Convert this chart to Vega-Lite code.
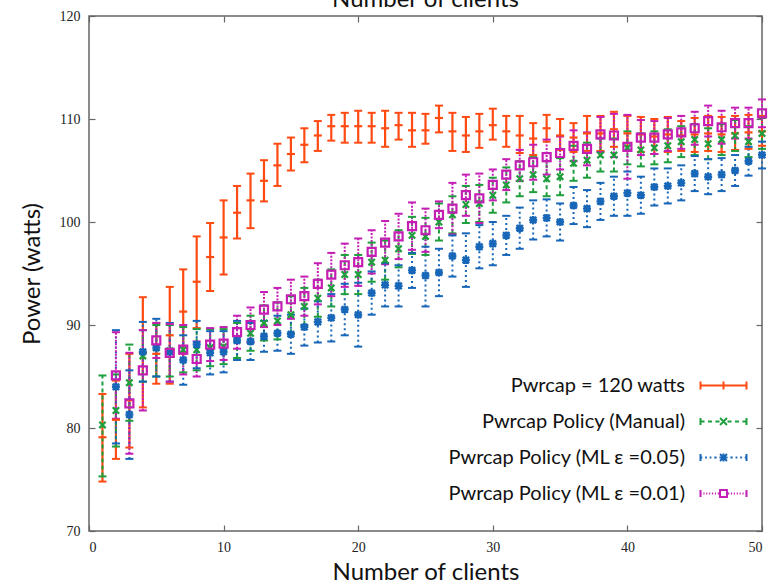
{
"$schema": "https://vega.github.io/schema/vega-lite/v6.json",
"width": 673, "height": 515,
"autosize": {"type": "none"},
"padding": {"left": 89, "top": 16, "right": 10, "bottom": 53},
"background": "white",
"config": {
 "view": {"stroke": "#666", "strokeWidth": 1.5},
 "font": "Lato",
 "axis": {"domain": false, "grid": false, "tickColor": "#666", "tickWidth": 1.2, "tickSize": -6, "labelFont": "Liberation Serif", "labelFontSize": 14, "labelColor": "#222", "titleFont": "Lato", "titleFontSize": 24, "titleFontWeight": "normal", "titleColor": "#111"}
},
"title": {"text": "Number of clients", "font": "Lato", "fontSize": 24, "fontWeight": "normal", "color": "#111", "anchor": "middle", "baseline": "alphabetic", "offset": 0, "dy": 22},
"data": {"values": [
{"s":"a","n":1,"m":79.1,"lo":74.8,"hi":83.3},{"s":"a","n":2,"m":80.8,"lo":77.0,"hi":84.6},{"s":"a","n":3,"m":82.7,"lo":78.1,"hi":87.2},{"s":"a","n":4,"m":87.3,"lo":82.0,"hi":92.7},{"s":"a","n":5,"m":87.2,"lo":84.3,"hi":90.2},{"s":"a","n":6,"m":89.0,"lo":84.3,"hi":93.7},{"s":"a","n":7,"m":91.3,"lo":87.2,"hi":95.4},{"s":"a","n":8,"m":94.2,"lo":89.7,"hi":98.6},{"s":"a","n":9,"m":96.6,"lo":93.3,"hi":99.9},{"s":"a","n":10,"m":98.5,"lo":94.9,"hi":102.1},
{"s":"a","n":11,"m":100.9,"lo":98.4,"hi":103.5},{"s":"a","n":12,"m":102.1,"lo":99.4,"hi":104.7},{"s":"a","n":13,"m":104.0,"lo":102.0,"hi":106.0},{"s":"a","n":14,"m":105.5,"lo":103.5,"hi":107.6},{"s":"a","n":15,"m":106.6,"lo":105.0,"hi":108.2},{"s":"a","n":16,"m":107.5,"lo":105.8,"hi":109.1},{"s":"a","n":17,"m":108.4,"lo":106.9,"hi":109.8},{"s":"a","n":18,"m":109.3,"lo":107.9,"hi":110.4},{"s":"a","n":19,"m":109.3,"lo":107.7,"hi":110.6},{"s":"a","n":20,"m":109.3,"lo":107.7,"hi":110.8},
{"s":"a","n":21,"m":109.3,"lo":107.7,"hi":110.6},{"s":"a","n":22,"m":109.1,"lo":107.3,"hi":110.8},{"s":"a","n":23,"m":109.4,"lo":108.0,"hi":110.6},{"s":"a","n":24,"m":108.9,"lo":107.3,"hi":110.6},{"s":"a","n":25,"m":108.9,"lo":107.6,"hi":110.5},{"s":"a","n":26,"m":110.1,"lo":108.7,"hi":111.3},{"s":"a","n":27,"m":108.8,"lo":106.9,"hi":110.6},{"s":"a","n":28,"m":108.4,"lo":106.8,"hi":110.2},{"s":"a","n":29,"m":108.8,"lo":107.2,"hi":110.5},{"s":"a","n":30,"m":109.4,"lo":108.0,"hi":111.0},
{"s":"a","n":31,"m":108.8,"lo":107.3,"hi":110.3},{"s":"a","n":32,"m":108.4,"lo":106.7,"hi":110.3},{"s":"a","n":33,"m":108.1,"lo":106.5,"hi":109.6},{"s":"a","n":34,"m":109.1,"lo":107.8,"hi":110.4},{"s":"a","n":35,"m":108.4,"lo":107.0,"hi":110.0},{"s":"a","n":36,"m":108.2,"lo":106.8,"hi":109.6},{"s":"a","n":37,"m":108.6,"lo":106.9,"hi":110.3},{"s":"a","n":38,"m":108.6,"lo":106.9,"hi":110.3},{"s":"a","n":39,"m":109.0,"lo":107.3,"hi":110.7},{"s":"a","n":40,"m":108.6,"lo":106.9,"hi":110.3},
{"s":"a","n":41,"m":108.5,"lo":106.8,"hi":110.2},{"s":"a","n":42,"m":108.3,"lo":106.6,"hi":110.0},{"s":"a","n":43,"m":108.5,"lo":106.8,"hi":110.2},{"s":"a","n":44,"m":108.4,"lo":106.9,"hi":109.8},{"s":"a","n":45,"m":108.5,"lo":106.8,"hi":110.1},{"s":"a","n":46,"m":108.6,"lo":106.9,"hi":110.3},{"s":"a","n":47,"m":108.5,"lo":106.8,"hi":110.2},{"s":"a","n":48,"m":108.6,"lo":107.0,"hi":110.3},{"s":"a","n":49,"m":108.7,"lo":107.1,"hi":110.4},{"s":"a","n":50,"m":108.8,"lo":107.4,"hi":110.3},
{"s":"b","n":1,"m":80.3,"lo":75.3,"hi":85.1},{"s":"b","n":2,"m":81.7,"lo":78.2,"hi":85.2},{"s":"b","n":3,"m":84.4,"lo":80.7,"hi":88.1},{"s":"b","n":4,"m":87.0,"lo":84.5,"hi":89.5},{"s":"b","n":5,"m":87.8,"lo":85.0,"hi":90.0},{"s":"b","n":6,"m":87.5,"lo":85.0,"hi":90.0},{"s":"b","n":7,"m":87.6,"lo":85.4,"hi":89.8},{"s":"b","n":8,"m":87.6,"lo":85.6,"hi":89.6},{"s":"b","n":9,"m":87.8,"lo":86.0,"hi":89.6},{"s":"b","n":10,"m":87.9,"lo":86.2,"hi":89.6},
{"s":"b","n":11,"m":88.5,"lo":86.8,"hi":90.2},{"s":"b","n":12,"m":89.2,"lo":87.5,"hi":90.9},{"s":"b","n":13,"m":90.2,"lo":88.5,"hi":91.9},{"s":"b","n":14,"m":90.4,"lo":88.6,"hi":92.2},{"s":"b","n":15,"m":91.0,"lo":89.2,"hi":92.8},{"s":"b","n":16,"m":91.8,"lo":90.0,"hi":93.6},{"s":"b","n":17,"m":92.6,"lo":90.8,"hi":94.4},{"s":"b","n":18,"m":93.6,"lo":91.8,"hi":95.4},{"s":"b","n":19,"m":94.9,"lo":93.0,"hi":96.8},{"s":"b","n":20,"m":94.9,"lo":93.0,"hi":96.8},
{"s":"b","n":21,"m":96.1,"lo":94.2,"hi":98.0},{"s":"b","n":22,"m":96.3,"lo":94.4,"hi":98.2},{"s":"b","n":23,"m":97.4,"lo":95.6,"hi":99.2},{"s":"b","n":24,"m":98.7,"lo":96.9,"hi":100.5},{"s":"b","n":25,"m":98.6,"lo":96.8,"hi":100.4},{"s":"b","n":26,"m":100.0,"lo":98.2,"hi":101.8},{"s":"b","n":27,"m":100.7,"lo":98.9,"hi":102.5},{"s":"b","n":28,"m":101.7,"lo":99.9,"hi":103.5},{"s":"b","n":29,"m":101.8,"lo":100.0,"hi":103.6},{"s":"b","n":30,"m":102.6,"lo":100.9,"hi":104.3},
{"s":"b","n":31,"m":103.6,"lo":101.9,"hi":105.3},{"s":"b","n":32,"m":104.2,"lo":102.5,"hi":105.9},{"s":"b","n":33,"m":104.6,"lo":102.9,"hi":106.3},{"s":"b","n":34,"m":104.2,"lo":102.5,"hi":105.9},{"s":"b","n":35,"m":104.4,"lo":102.6,"hi":106.2},{"s":"b","n":36,"m":105.7,"lo":104.0,"hi":107.4},{"s":"b","n":37,"m":106.0,"lo":104.3,"hi":107.7},{"s":"b","n":38,"m":106.5,"lo":104.9,"hi":108.1},{"s":"b","n":39,"m":106.5,"lo":104.9,"hi":108.1},{"s":"b","n":40,"m":107.2,"lo":105.6,"hi":108.8},
{"s":"b","n":41,"m":107.0,"lo":105.4,"hi":108.6},{"s":"b","n":42,"m":107.2,"lo":105.6,"hi":108.8},{"s":"b","n":43,"m":107.4,"lo":105.8,"hi":109.0},{"s":"b","n":44,"m":107.8,"lo":106.3,"hi":109.3},{"s":"b","n":45,"m":108.0,"lo":106.5,"hi":109.5},{"s":"b","n":46,"m":107.6,"lo":106.1,"hi":109.1},{"s":"b","n":47,"m":108.0,"lo":106.5,"hi":109.5},{"s":"b","n":48,"m":108.4,"lo":106.9,"hi":109.9},{"s":"b","n":49,"m":107.8,"lo":106.3,"hi":109.3},{"s":"b","n":50,"m":108.6,"lo":107.1,"hi":110.1},
{"s":"c","n":2,"m":84.0,"lo":78.5,"hi":89.5},{"s":"c","n":3,"m":81.3,"lo":77.0,"hi":85.6},{"s":"c","n":4,"m":87.4,"lo":84.5,"hi":90.3},{"s":"c","n":5,"m":87.8,"lo":85.0,"hi":90.6},{"s":"c","n":6,"m":87.4,"lo":84.5,"hi":90.2},{"s":"c","n":7,"m":86.6,"lo":84.2,"hi":89.0},{"s":"c","n":8,"m":88.1,"lo":85.8,"hi":90.4},{"s":"c","n":9,"m":87.3,"lo":85.2,"hi":89.4},{"s":"c","n":10,"m":87.4,"lo":85.4,"hi":89.4},
{"s":"c","n":11,"m":88.5,"lo":86.6,"hi":90.4},{"s":"c","n":12,"m":88.4,"lo":86.6,"hi":90.2},{"s":"c","n":13,"m":88.9,"lo":87.4,"hi":90.4},{"s":"c","n":14,"m":89.2,"lo":87.5,"hi":90.9},{"s":"c","n":15,"m":89.1,"lo":87.2,"hi":91.0},{"s":"c","n":16,"m":89.8,"lo":88.0,"hi":91.6},{"s":"c","n":17,"m":90.3,"lo":88.3,"hi":92.3},{"s":"c","n":18,"m":90.7,"lo":88.4,"hi":93.0},{"s":"c","n":19,"m":91.5,"lo":89.0,"hi":94.0},{"s":"c","n":20,"m":91.0,"lo":87.9,"hi":94.1},
{"s":"c","n":21,"m":93.1,"lo":91.0,"hi":95.2},{"s":"c","n":22,"m":93.9,"lo":91.8,"hi":96.0},{"s":"c","n":23,"m":93.8,"lo":91.8,"hi":95.8},{"s":"c","n":24,"m":95.3,"lo":93.6,"hi":97.0},{"s":"c","n":25,"m":94.8,"lo":91.8,"hi":97.6},{"s":"c","n":26,"m":95.1,"lo":92.8,"hi":97.4},{"s":"c","n":27,"m":96.7,"lo":94.7,"hi":98.7},{"s":"c","n":28,"m":96.3,"lo":93.7,"hi":98.9},{"s":"c","n":29,"m":97.6,"lo":95.5,"hi":99.7},{"s":"c","n":30,"m":97.9,"lo":95.8,"hi":100.0},
{"s":"c","n":31,"m":98.7,"lo":96.8,"hi":100.6},{"s":"c","n":32,"m":99.4,"lo":97.4,"hi":101.4},{"s":"c","n":33,"m":100.2,"lo":98.3,"hi":102.1},{"s":"c","n":34,"m":100.4,"lo":98.6,"hi":102.2},{"s":"c","n":35,"m":100.0,"lo":98.2,"hi":101.8},{"s":"c","n":36,"m":101.6,"lo":99.8,"hi":103.4},{"s":"c","n":37,"m":101.3,"lo":99.5,"hi":103.1},{"s":"c","n":38,"m":102.0,"lo":100.2,"hi":103.8},{"s":"c","n":39,"m":102.5,"lo":100.6,"hi":104.4},{"s":"c","n":40,"m":102.8,"lo":100.6,"hi":104.9},
{"s":"c","n":41,"m":102.6,"lo":100.8,"hi":104.4},{"s":"c","n":42,"m":103.4,"lo":101.6,"hi":105.2},{"s":"c","n":43,"m":103.5,"lo":101.8,"hi":105.2},{"s":"c","n":44,"m":103.8,"lo":102.1,"hi":105.5},{"s":"c","n":45,"m":104.7,"lo":103.0,"hi":106.4},{"s":"c","n":46,"m":104.4,"lo":102.7,"hi":106.1},{"s":"c","n":47,"m":104.6,"lo":103.0,"hi":106.2},{"s":"c","n":48,"m":105.0,"lo":103.5,"hi":106.5},{"s":"c","n":49,"m":105.9,"lo":104.5,"hi":107.3},{"s":"c","n":50,"m":106.5,"lo":105.2,"hi":107.8},
{"s":"d","n":2,"m":85.1,"lo":80.9,"hi":89.3},{"s":"d","n":3,"m":82.4,"lo":77.5,"hi":87.3},{"s":"d","n":4,"m":85.6,"lo":81.7,"hi":89.5},{"s":"d","n":5,"m":88.5,"lo":86.8,"hi":90.2},{"s":"d","n":6,"m":87.3,"lo":84.5,"hi":90.1},{"s":"d","n":7,"m":87.6,"lo":85.2,"hi":90.0},{"s":"d","n":8,"m":86.7,"lo":85.0,"hi":88.4},{"s":"d","n":9,"m":88.1,"lo":86.5,"hi":89.7},{"s":"d","n":10,"m":88.2,"lo":86.6,"hi":89.8},
{"s":"d","n":11,"m":89.3,"lo":87.7,"hi":90.9},{"s":"d","n":12,"m":90.0,"lo":88.3,"hi":91.7},{"s":"d","n":13,"m":91.5,"lo":89.8,"hi":93.2},{"s":"d","n":14,"m":91.8,"lo":90.0,"hi":93.6},{"s":"d","n":15,"m":92.5,"lo":90.6,"hi":94.4},{"s":"d","n":16,"m":92.8,"lo":90.9,"hi":94.7},{"s":"d","n":17,"m":94.0,"lo":92.0,"hi":96.0},{"s":"d","n":18,"m":94.9,"lo":92.8,"hi":97.0},{"s":"d","n":19,"m":95.8,"lo":93.7,"hi":97.9},{"s":"d","n":20,"m":96.1,"lo":93.8,"hi":98.4},
{"s":"d","n":21,"m":97.1,"lo":95.0,"hi":99.2},{"s":"d","n":22,"m":98.0,"lo":95.9,"hi":100.1},{"s":"d","n":23,"m":98.6,"lo":96.4,"hi":100.8},{"s":"d","n":24,"m":99.6,"lo":97.3,"hi":101.9},{"s":"d","n":25,"m":99.2,"lo":97.1,"hi":101.3},{"s":"d","n":26,"m":100.7,"lo":99.4,"hi":102.0},{"s":"d","n":27,"m":101.3,"lo":98.8,"hi":103.8},{"s":"d","n":28,"m":102.6,"lo":100.6,"hi":104.6},{"s":"d","n":29,"m":102.3,"lo":99.9,"hi":104.7},{"s":"d","n":30,"m":103.6,"lo":102.1,"hi":105.1},
{"s":"d","n":31,"m":104.6,"lo":103.1,"hi":106.1},{"s":"d","n":32,"m":105.5,"lo":104.0,"hi":107.0},{"s":"d","n":33,"m":105.8,"lo":104.1,"hi":107.5},{"s":"d","n":34,"m":106.3,"lo":104.6,"hi":108.0},{"s":"d","n":35,"m":106.7,"lo":105.1,"hi":108.3},{"s":"d","n":36,"m":107.4,"lo":105.9,"hi":108.9},{"s":"d","n":37,"m":107.1,"lo":105.5,"hi":108.7},{"s":"d","n":38,"m":108.5,"lo":106.8,"hi":110.2},{"s":"d","n":39,"m":108.4,"lo":106.3,"hi":110.5},{"s":"d","n":40,"m":107.3,"lo":104.2,"hi":110.4},
{"s":"d","n":41,"m":108.2,"lo":106.5,"hi":109.9},{"s":"d","n":42,"m":108.2,"lo":106.6,"hi":109.8},{"s":"d","n":43,"m":108.5,"lo":106.9,"hi":110.1},{"s":"d","n":44,"m":108.7,"lo":107.1,"hi":110.3},{"s":"d","n":45,"m":109.1,"lo":107.5,"hi":110.7},{"s":"d","n":46,"m":109.8,"lo":108.3,"hi":111.3},{"s":"d","n":47,"m":109.2,"lo":107.6,"hi":110.8},{"s":"d","n":48,"m":109.6,"lo":108.1,"hi":111.1},{"s":"d","n":49,"m":109.6,"lo":108.1,"hi":111.1},{"s":"d","n":50,"m":110.55,"lo":109.2,"hi":111.9}
]},
"layer": [
 {
  "transform": [{"filter": "datum.s === 'a'"}],
  "mark": {"type": "rule", "strokeWidth": 2.2},
  "encoding": {
   "x": {"field": "n", "type": "quantitative", "scale": {"domain": [0, 50], "nice": false}, "axis": {"values": [0, 10, 20, 30, 40, 50], "title": "Number of clients", "labelFont": "Liberation Serif", "labelPadding": 15, "titlePadding": 6}},
   "y": {"field": "lo", "type": "quantitative", "scale": {"domain": [70, 120], "nice": false}, "axis": {"values": [70, 80, 90, 100, 110, 120], "title": "Power (watts)", "labelFont": "Liberation Serif", "labelPadding": 15, "titlePadding": 15}},
   "y2": {"field": "hi"},
   "color": {"field": "s", "type": "nominal", "scale": {"domain": ["a", "b", "c", "d"], "range": ["#ff4a12", "#1e9e3c", "#1766b8", "#c41eb4"]},
    "legend": {
     "orient": "none", "legendX": 622, "legendY": 357, "title": null,
     "labelExpr": "datum.value === 'a' ? 'Pwrcap = 120 watts' : datum.value === 'b' ? 'Pwrcap Policy (Manual)' : datum.value === 'c' ? 'Pwrcap Policy (ML  ε =0.05)' : 'Pwrcap Policy (ML ε =0.01)'",
     "labelFont": "Lato", "labelFontSize": 20, "labelColor": "#111", "labelAlign": "right", "labelOffset": -51, "labelLimit": 400,
     "symbolSize": 529, "symbolStrokeWidth": 2, "symbolFillColor": "transparent", "rowPadding": 13,
     "symbolType": {"expr": "datum.value === 'a' ? 'M-2,0H2M-2,-0.35V0.35M2,-0.35V0.35M0,-0.35V0.35' : datum.value === 'b' ? 'M-2,0H-1.65M-1.35,0H-1M-0.7,0H-0.35M0.35,0H0.7M1,0H1.35M1.65,0H2M-2,-0.3V0.3M2,-0.3V0.3M-0.3,-0.3L0.3,0.3M-0.3,0.3L0.3,-0.3' : datum.value === 'c' ? 'M-2,0H-1.85M-1.6,0H-1.45M-1.2,0H-1.05M-0.8,0H-0.6M0.6,0H0.8M1.05,0H1.2M1.45,0H1.6M1.85,0H2M-2,-0.3V0.3M2,-0.3V0.3M-0.3,-0.3L0.3,0.3M-0.3,0.3L0.3,-0.3M0,-0.35V0.35M-0.35,0H0.35' : 'M-2,0H-1.9M-1.75,0H-1.65M-1.5,0H-1.4M-1.25,0H-1.15M-1,0H-0.9M-0.75,0H-0.65M-0.5,0H-0.3M0.3,0H0.5M0.65,0H0.75M0.9,0H1M1.15,0H1.25M1.4,0H1.5M1.65,0H1.75M1.9,0H2M-2,-0.3V0.3M2,-0.3V0.3M-0.3,-0.3H0.3V0.3H-0.3Z'"}
    }}
  }
 },
 {
  "transform": [{"filter": "datum.s === 'b'"}],
  "mark": {"type": "rule", "strokeWidth": 2, "strokeDash": [4, 3]},
  "encoding": {"x": {"field": "n", "type": "quantitative", "axis": null}, "y": {"field": "lo", "type": "quantitative", "axis": null}, "y2": {"field": "hi"}, "color": {"field": "s", "type": "nominal", "legend": null}}
 },
 {
  "transform": [{"filter": "datum.s === 'c'"}],
  "mark": {"type": "rule", "strokeWidth": 2, "strokeDash": [2, 3]},
  "encoding": {"x": {"field": "n", "type": "quantitative", "axis": null}, "y": {"field": "lo", "type": "quantitative", "axis": null}, "y2": {"field": "hi"}, "color": {"field": "s", "type": "nominal", "legend": null}}
 },
 {
  "transform": [{"filter": "datum.s === 'd'"}],
  "mark": {"type": "rule", "strokeWidth": 2, "strokeDash": [2, 1.5]},
  "encoding": {"x": {"field": "n", "type": "quantitative", "axis": null}, "y": {"field": "lo", "type": "quantitative", "axis": null}, "y2": {"field": "hi"}, "color": {"field": "s", "type": "nominal", "legend": null}}
 },
 {
  "mark": {"type": "point", "shape": "M-1,0H1", "size": 64, "filled": false, "strokeWidth": 2, "opacity": 1},
  "encoding": {"x": {"field": "n", "type": "quantitative", "axis": null}, "y": {"field": "lo", "type": "quantitative", "axis": null}, "color": {"field": "s", "type": "nominal", "legend": null}}
 },
 {
  "mark": {"type": "point", "shape": "M-1,0H1", "size": 64, "filled": false, "strokeWidth": 2, "opacity": 1},
  "encoding": {
   "x": {"field": "n", "type": "quantitative", "axis": {"orient": "top", "values": [0, 10, 20, 30, 40, 50], "labels": false, "title": null}},
   "y": {"field": "hi", "type": "quantitative", "axis": {"orient": "right", "values": [70, 80, 90, 100, 110, 120], "labels": false, "title": null}},
   "color": {"field": "s", "type": "nominal", "legend": null}
  }
 },
 {
  "transform": [{"filter": "datum.s === 'a'"}],
  "mark": {"type": "point", "shape": "M-1,0H1", "filled": false, "strokeWidth": 2.2, "size": 64, "opacity": 1},
  "encoding": {"x": {"field": "n", "type": "quantitative", "axis": null}, "y": {"field": "m", "type": "quantitative", "axis": null}, "color": {"field": "s", "type": "nominal", "legend": null}}
 },
 {
  "transform": [{"filter": "datum.s === 'b'"}],
  "mark": {"type": "point", "shape": "M-0.8,-0.8L0.8,0.8M-0.8,0.8L0.8,-0.8", "filled": false, "strokeWidth": 2.2, "size": 64, "opacity": 1},
  "encoding": {"x": {"field": "n", "type": "quantitative", "axis": null}, "y": {"field": "m", "type": "quantitative", "axis": null}, "color": {"field": "s", "type": "nominal", "legend": null}}
 },
 {
  "transform": [{"filter": "datum.s === 'c'"}],
  "mark": {"type": "point", "shape": "M-0.8,-0.8L0.8,0.8M-0.8,0.8L0.8,-0.8M0,-1V1M-1,0H1", "filled": false, "strokeWidth": 2.4, "size": 64, "opacity": 1},
  "encoding": {"x": {"field": "n", "type": "quantitative", "axis": null}, "y": {"field": "m", "type": "quantitative", "axis": null}, "color": {"field": "s", "type": "nominal", "legend": null}}
 },
 {
  "transform": [{"filter": "datum.s === 'd'"}],
  "mark": {"type": "point", "shape": "square", "filled": false, "strokeWidth": 2.2, "size": 64, "opacity": 1},
  "encoding": {"x": {"field": "n", "type": "quantitative", "axis": null}, "y": {"field": "m", "type": "quantitative", "axis": null}, "color": {"field": "s", "type": "nominal", "legend": null}}
 }
],
"resolve": {"axis": {"x": "independent", "y": "independent"}}
}
